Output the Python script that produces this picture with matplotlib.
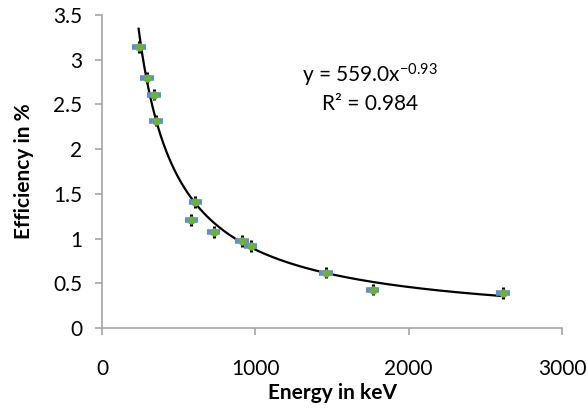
"""
Curva de eficiencia del detector frente a la energía gamma,
con ajuste potencial (línea de tendencia) y barras de error.
"""
import numpy as np
import matplotlib
matplotlib.use("Agg")
import matplotlib.pyplot as plt

# Energías de los picos (keV) y eficiencias medidas (%)
energia_kev = [238.6, 295.2, 338.3, 351.9, 583.2, 609.3, 727.3, 911.2, 969.0, 1460.8, 1764.5, 2614.5]
eficiencia = [3.14, 2.80, 2.61, 2.32, 1.21, 1.41, 1.07, 0.97, 0.92, 0.62, 0.43, 0.39]
err_energia = [45] * len(energia_kev)
err_eficiencia = [0.065] * len(eficiencia)

# Parámetros del ajuste y = A * x^B
FIT_A = 559.0
FIT_B = -0.9349
FIT_R2 = 0.984

plt.rcParams["font.family"] = ["Lato", "DejaVu Sans"]
plt.rcParams["mathtext.fontset"] = "custom"
plt.rcParams["mathtext.rm"] = "Lato"
plt.rcParams["mathtext.it"] = "Lato"

GRIS = "#a6a6a6"
FS = 15

fig = plt.figure(figsize=(5.87, 4.13), dpi=100)
ax = fig.add_axes([0.1738, 0.2058, 0.7836, 0.7579])

# Línea de tendencia
xs = np.linspace(min(energia_kev), max(energia_kev), 400)
ax.plot(xs, FIT_A * xs ** FIT_B, color="black", linewidth=1.6, zorder=2)

# Barras de error horizontales (azul) y verticales (negro), punto verde encima
ax.errorbar(energia_kev, eficiencia, xerr=err_energia, fmt="none",
            ecolor="#5b8fd0", elinewidth=4, capsize=0, zorder=3)
ax.errorbar(energia_kev, eficiencia, yerr=err_eficiencia, fmt="none",
            ecolor="black", elinewidth=2.2, capsize=0, zorder=4)
ax.scatter(energia_kev, eficiencia, s=36, color="#70ad47", zorder=5, linewidths=0)

ax.text(1745, 2.83, f"y = {FIT_A:.1f}x$^{{{FIT_B:.2f}}}$", ha="center", va="center", fontsize=FS)
ax.text(1745, 2.50, f"R² = {FIT_R2:.3f}", ha="center", va="center", fontsize=FS)

ax.set_xlim(0, 3000)
ax.set_ylim(0, 3.5)
ax.set_xticks([0, 1000, 2000, 3000])
ax.set_yticks([0, 0.5, 1, 1.5, 2, 2.5, 3, 3.5])
ax.set_yticklabels(["0", "0.5", "1", "1.5", "2", "2.5", "3", "3.5"])

for lado in ("top", "right"):
    ax.spines[lado].set_visible(False)
for lado in ("left", "bottom"):
    ax.spines[lado].set_color(GRIS)
    ax.spines[lado].set_linewidth(1.2)
ax.tick_params(axis="both", colors=GRIS, labelcolor="black", labelsize=FS, length=5, width=1.2)
ax.tick_params(axis="x", pad=17)
ax.tick_params(axis="y", pad=9)

ax.set_xlabel("Energy in keV", fontsize=FS, fontweight="bold", labelpad=3)
ax.set_ylabel("Efficiency in %", fontsize=FS, fontweight="bold", labelpad=14)

fig.savefig("out.png", dpi=100)
